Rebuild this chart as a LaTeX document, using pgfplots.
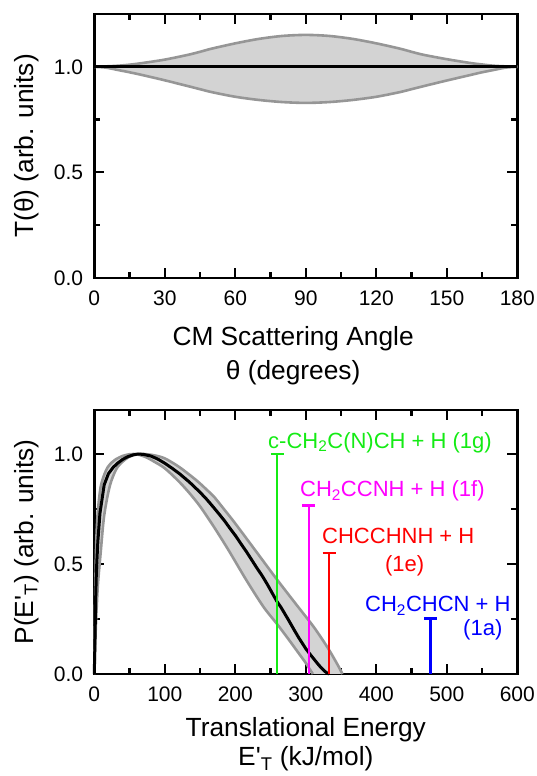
\documentclass[border=0pt]{standalone}
\usepackage{fontspec}
\setmainfont{Liberation Sans}[Ligatures=TeXOff]
\usepackage{pgfplots}
\pgfplotsset{compat=1.18}
\usepgfplotslibrary{fillbetween}
\usetikzlibrary{calc}

\definecolor{bandfill}{RGB}{211,211,211}
\definecolor{bandline}{RGB}{150,150,150}
\definecolor{cgreen}{RGB}{20,235,20}
\definecolor{cmag}{RGB}{255,0,255}
\definecolor{cred}{RGB}{255,0,0}
\definecolor{cblue}{RGB}{0,0,255}

\newcommand{\tickfont}{\fontsize{21}{24}\selectfont}
\newcommand{\labfont}{\fontsize{26.3}{30}\selectfont}
\newcommand{\annfont}{\fontsize{22}{26}\selectfont}

\pgfplotsset{
  panel/.style={
    scale only axis, width=423pt, height=264pt, anchor=south west,
    clip=false,
    axis line style={line width=2.8pt},
    every tick/.style={line width=2.2pt, black},
    tick align=inside,
    major tick length=10pt, minor tick length=6pt,
    ticklabel style={font=\tickfont},
    /pgf/number format/assume math mode=true,
    xticklabel style={inner sep=0pt, yshift=-13pt},
    yticklabel style={inner sep=0pt, xshift=-11pt,
      /pgf/number format/.cd, fixed, fixed zerofill, precision=1},
  }
}

% Top panel: T(theta)
\pgfplotstableread{
th   up     lo
0    1.000  1.000
5    1.002  0.996
10   1.005  0.985
15   1.010  0.974
20   1.017  0.962
30   1.034  0.936
40   1.057  0.908
45   1.071  0.894
50   1.086  0.880
60   1.111  0.858
70   1.132  0.843
80   1.146  0.833
90   1.151  0.829
100  1.146  0.833
110  1.132  0.843
120  1.111  0.858
130  1.086  0.880
135  1.071  0.894
140  1.057  0.908
150  1.036  0.935
160  1.018  0.961
165  1.011  0.974
170  1.005  0.985
175  1.002  0.996
180  1.000  1.000
}\Ttab

% Bottom panel: P(E) best fit
\pgfplotstableread{
E    P
0    0.000
1    0.160
2    0.350
3    0.470
5    0.600
8    0.730
14   0.860
20   0.910
27   0.940
33   0.958
40   0.975
47   0.987
55   0.996
62   1.000
70   0.998
80   0.991
90   0.977
100  0.958
110  0.936
121  0.910
135  0.872
150  0.826
160  0.792
169  0.758
177  0.727
185  0.695
192  0.664
200  0.630
208  0.592
216  0.555
223  0.520
230  0.485
238  0.447
245  0.410
252  0.370
259  0.330
265  0.302
270  0.275
275  0.248
280  0.220
285  0.192
290  0.165
295  0.140
300  0.115
306  0.090
311  0.070
316  0.050
320  0.035
324  0.022
327  0.012
330  0.005
333  0.000
}\Pbest

\pgfplotstableread{
E    P
0    0.000
1    0.300
2    0.500
3    0.620
5    0.740
9    0.850
14   0.905
19   0.940
25   0.962
30   0.975
40   0.991
50   0.999
56   1.000
65   0.995
75   0.983
85   0.965
100  0.935
120  0.875
135  0.822
150  0.762
169  0.672
190  0.565
216  0.425
240  0.305
259  0.228
275  0.160
290  0.094
300  0.050
306  0.020
310  0.000
}\Pfast

\pgfplotstableread{
E    P
0    0.000
2    0.200
5    0.400
9    0.550
14   0.720
22   0.855
31   0.930
40   0.965
50   0.988
60   0.998
70   1.000
85   0.994
100  0.980
120  0.942
140  0.893
150  0.866
160  0.836
170  0.805
185  0.745
200  0.684
230  0.555
259  0.430
285  0.322
311  0.215
330  0.125
342  0.060
348  0.025
352  0.000
}\Pslow

\begin{document}
\begin{tikzpicture}
% ---------- Top panel ----------
\begin{axis}[panel, at={(94.3pt,498pt)},
  xmin=0, xmax=180, ymin=0, ymax=1.25,
  xtick={0,30,...,180}, minor xtick={15,45,...,165},
  ytick={0,0.5,1.0}, minor ytick={0.25,0.75}]
  \addplot[draw=none, name path=tu] table[x=th, y=up] {\Ttab};
  \addplot[draw=none, name path=tl] table[x=th, y=lo] {\Ttab};
  \addplot[fill=bandfill, draw=none] fill between[of=tu and tl];
  \addplot[bandline, line width=2.6pt, smooth] table[x=th, y=up] {\Ttab};
  \addplot[bandline, line width=2.6pt, smooth] table[x=th, y=lo] {\Ttab};
  \addplot[black, line width=3pt] coordinates {(0,1) (180,1)};
  \node[font=\labfont, anchor=base] at ($(rel axis cs:0.47,0)+(0,-68pt)$) {CM Scattering Angle};
  \node[font=\labfont, anchor=base] at ($(rel axis cs:0.47,0)+(0,-102pt)$) {θ (degrees)};
  \node[font=\labfont, anchor=base, rotate=90] at ($(rel axis cs:0,0.5)+(-61pt,0)$) {T(θ) (arb. units)};
\end{axis}
% ---------- Bottom panel ----------
\begin{axis}[panel, at={(94.3pt,102pt)},
  xmin=0, xmax=600, ymin=0, ymax=1.2,
  xtick={0,100,...,600}, minor xtick={50,150,...,550},
  ytick={0,0.5,1.0}, minor ytick={0.25,0.75}]
  \addplot[draw=none, name path=pa, smooth] table[x=E, y=P] {\Pfast};
  \addplot[draw=none, name path=pb, smooth] table[x=E, y=P] {\Pslow};
  \addplot[fill=bandfill, draw=none] fill between[of=pa and pb];
  \addplot[bandline, line width=2.6pt, smooth] table[x=E, y=P] {\Pfast};
  \addplot[bandline, line width=2.6pt, smooth] table[x=E, y=P] {\Pslow};
  \addplot[black, line width=3pt] table[x=E, y=P] {\Pbest};
  % energy limits
  \addplot[cgreen, line width=2.2pt] coordinates {(259.5,0) (259.5,1.0)};
  \addplot[cgreen, line width=2.2pt] coordinates {(250.3,1.0) (268.7,1.0)};
  \addplot[cmag, line width=2.2pt] coordinates {(304,0) (304,0.766)};
  \addplot[cmag, line width=2.2pt] coordinates {(294.8,0.766) (313.2,0.766)};
  \addplot[cred, line width=2.2pt] coordinates {(333,0) (333,0.551)};
  \addplot[cred, line width=2.2pt] coordinates {(323.8,0.551) (342.2,0.551)};
  \addplot[cblue, line width=2.2pt] coordinates {(477,0) (477,0.252)};
  \addplot[cblue, line width=2.2pt] coordinates {(467.8,0.252) (486.2,0.252)};
  \node[font=\annfont, text=cgreen, anchor=base west, inner sep=0pt] at (axis cs:246.4,1.027) {c-CH\textsubscript{2}C(N)CH + H (1g)};
  \node[font=\annfont, text=cmag, anchor=base west, inner sep=0pt] at (axis cs:291.7,0.805) {CH\textsubscript{2}CCNH + H (1f)};
  \node[font=\annfont, text=cred, anchor=base west, inner sep=0pt] at (axis cs:323,0.595) {CHCCHNH + H};
  \node[font=\annfont, text=cred, anchor=base west, inner sep=0pt] at (axis cs:412.3,0.464) {(1e)};
  \node[font=\annfont, text=cblue, anchor=base west, inner sep=0pt] at (axis cs:384,0.282) {CH\textsubscript{2}CHCN + H};
  \node[font=\annfont, text=cblue, anchor=base west, inner sep=0pt] at (axis cs:523,0.177) {(1a)};
  \node[font=\labfont, anchor=base] at ($(rel axis cs:0.5,0)+(0,-63pt)$) {Translational Energy};
  \node[font=\labfont, anchor=base] at ($(rel axis cs:0.5,0)+(0,-92pt)$) {E'\textsubscript{T} (kJ/mol)};
  \node[font=\labfont, anchor=base, rotate=90] at ($(rel axis cs:0,0.5)+(-61pt,0)$) {P(E'\textsubscript{T}) (arb. units)};
\end{axis}
\pgfresetboundingbox
\path[use as bounding box] (0,0) rectangle (537pt,776pt);
\end{tikzpicture}
\end{document}
